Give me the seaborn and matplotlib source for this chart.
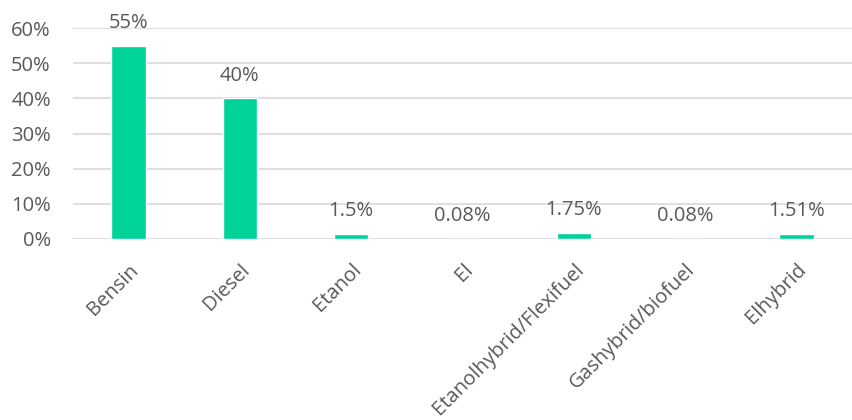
import matplotlib
matplotlib.use("Agg")
import matplotlib.pyplot as plt
import seaborn as sns
import pandas as pd
from matplotlib.ticker import PercentFormatter

# Data
categories = ["Bensin", "Diesel", "Etanol", "El", "Etanolhybrid/Flexifuel",
              "Gashybrid/biofuel", "Elhybrid"]
shares = [0.55, 0.40, 0.015, 0.0008, 0.0175, 0.0008, 0.0151]
value_labels = ["55%", "40%", "1.5%", "0.08%", "1.75%", "0.08%", "1.51%"]
y_ticks = [0, 0.1, 0.2, 0.3, 0.4, 0.5, 0.6]

df = pd.DataFrame({"Fuel": categories, "Share": shares})

sns.set_style("white")
plt.rcParams['font.family'] = ['Open Sans', 'DejaVu Sans']

text_color = "#595959"
bar_color = "#00D399"
fs = 14.5

fig = plt.figure(figsize=(8.52, 4.2), dpi=100)
ax = fig.add_axes([73 / 852, 1 - 239 / 420, 779 / 852, 211 / 420])

sns.barplot(data=df, x="Fuel", y="Share", color=bar_color, width=0.31,
            saturation=1, ax=ax)

ax.set_ylim(0, 0.6)
ax.set_yticks(y_ticks)
ax.yaxis.set_major_formatter(PercentFormatter(1.0, decimals=0))
ax.grid(axis="y", color="#D9D9D9", linewidth=1.2)
ax.set_axisbelow(True)
for s in ax.spines.values():
    s.set_visible(False)

ax.set_xlabel("")
ax.set_ylabel("")
ax.tick_params(axis="y", length=0, pad=16, labelsize=fs, labelcolor=text_color)
ax.tick_params(axis="x", length=0, pad=15, labelsize=fs, labelcolor=text_color)
for lab in ax.get_xticklabels():
    lab.set_rotation(45)
    lab.set_ha("right")
    lab.set_rotation_mode("anchor")

# value labels above bars
for bar, txt in zip(ax.patches, value_labels):
    ax.annotate(txt, (bar.get_x() + bar.get_width() / 2, bar.get_height()),
                xytext=(0, 9), textcoords="offset points", ha="center",
                va="bottom", fontsize=fs, color=text_color,
                annotation_clip=False)

fig.savefig("out.png", dpi=100)
